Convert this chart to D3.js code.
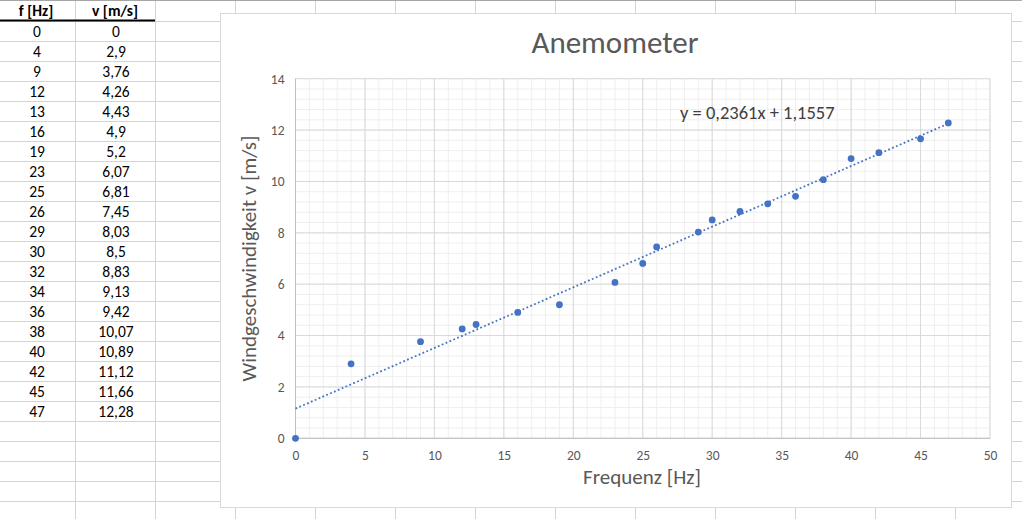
<!DOCTYPE html>
<html>
<head>
<meta charset="utf-8">
<script src="https://cdn.jsdelivr.net/npm/d3@7"></script>
<style>
  html, body { margin: 0; padding: 0; background: #fff; }
  svg { display: block; font-family: Calibri, Carlito, Lato, "Open Sans", sans-serif; }
</style>
</head>
<body>
<svg width="1022" height="519"></svg>
<script>
// measured data (also shown in the sheet on the left)
const freq = [0, 4, 9, 12, 13, 16, 19, 23, 25, 26, 29, 30, 32, 34, 36, 38, 40, 42, 45, 47];
const speed = [0, 2.9, 3.76, 4.26, 4.43, 4.9, 5.2, 6.07, 6.81, 7.45, 8.03, 8.5, 8.83, 9.13, 9.42, 10.07, 10.89, 11.12, 11.66, 12.28];

// linear trendline as printed by Excel
const slope = 0.2361;
const intercept = 1.1557;

const xTicks = [0, 5, 10, 15, 20, 25, 30, 35, 40, 45, 50];
const yTicks = [0, 2, 4, 6, 8, 10, 12, 14];

const BLUE = "#4472C4";
const comma = v => String(v).replace(".", ",");

const svg = d3.select("svg");

// ---- spreadsheet background ----
const sheet = svg.append("g");
const colLines = d3.range(75, 1022, 80);
const rowLines = d3.range(21, 519, 20);

sheet.selectAll(".col").data(colLines).join("line")
    .attr("x1", d => d + 0.5).attr("x2", d => d + 0.5)
    .attr("y1", 0).attr("y2", 519)
    .attr("stroke", "#d4d4d4");
sheet.selectAll(".row").data(rowLines).join("line")
    .attr("x1", 0).attr("x2", 1022)
    .attr("y1", d => d + 0.5).attr("y2", d => d + 0.5)
    .attr("stroke", "#d4d4d4");
sheet.append("line")
    .attr("x1", 0).attr("x2", 1022).attr("y1", 0.5).attr("y2", 0.5)
    .attr("stroke", "#a6a6a6");
// thick line under the header
sheet.append("line")
    .attr("x1", 0).attr("x2", 155).attr("y1", 20.5).attr("y2", 20.5)
    .attr("stroke", "#000").attr("stroke-width", 2);

const headers = [["f [Hz]", 36], ["v [m/s]", 115]];
sheet.selectAll(".hdr").data(headers).join("text")
    .attr("x", d => d[1]).attr("y", 15.5)
    .attr("text-anchor", "middle")
    .attr("font-size", 15.5).attr("font-weight", "bold")
    .attr("fill", "#000")
    .text(d => d[0]);

freq.forEach((f, i) => {
    const y = 37 + i * 20;
    sheet.append("text").attr("x", 37).attr("y", y)
        .attr("text-anchor", "middle").attr("font-size", 15.5).attr("fill", "#000")
        .text(comma(f));
    sheet.append("text").attr("x", 116).attr("y", y)
        .attr("text-anchor", "middle").attr("font-size", 15.5).attr("fill", "#000")
        .text(comma(speed[i]));
});

// ---- chart box ----
const box = { x: 220, y: 13, w: 791, h: 494 };
svg.append("rect")
    .attr("x", box.x + 0.5).attr("y", box.y + 0.5)
    .attr("width", box.w).attr("height", box.h)
    .attr("fill", "#fff").attr("stroke", "#d9d9d9");

const plot = { left: 295.5, right: 990, top: 78.7, bottom: 438.3 };

const x = d3.scaleLinear().domain([0, 50]).range([plot.left, plot.right]);
const y = d3.scaleLinear().domain([0, 14]).range([plot.bottom, plot.top]);

const g = svg.append("g");

// minor grid
const xMinor = d3.range(0, 50.01, 1);
const yMinor = d3.range(0, 14.01, 0.4);
g.selectAll(".xm").data(xMinor).join("line")
    .attr("x1", d => x(d)).attr("x2", d => x(d))
    .attr("y1", plot.top).attr("y2", plot.bottom)
    .attr("stroke", "#efefef");
g.selectAll(".ym").data(yMinor).join("line")
    .attr("x1", plot.left).attr("x2", plot.right)
    .attr("y1", d => y(d)).attr("y2", d => y(d))
    .attr("stroke", "#efefef");

// major grid
g.selectAll(".xM").data(xTicks).join("line")
    .attr("x1", d => x(d)).attr("x2", d => x(d))
    .attr("y1", plot.top).attr("y2", plot.bottom)
    .attr("stroke", "#d9d9d9");
g.selectAll(".yM").data(yTicks).join("line")
    .attr("x1", plot.left).attr("x2", plot.right)
    .attr("y1", d => y(d)).attr("y2", d => y(d))
    .attr("stroke", "#d9d9d9");

// axes lines
g.append("line")
    .attr("x1", plot.left).attr("x2", plot.right)
    .attr("y1", plot.bottom).attr("y2", plot.bottom)
    .attr("stroke", "#bfbfbf");
g.append("line")
    .attr("x1", plot.left).attr("x2", plot.left)
    .attr("y1", plot.top).attr("y2", plot.bottom)
    .attr("stroke", "#bfbfbf");

// tick labels
const xAxis = d3.axisBottom(x).tickValues(xTicks).tickSize(0).tickPadding(12).tickFormat(d => d);
const yAxis = d3.axisLeft(y).tickValues(yTicks).tickSize(0).tickPadding(11).tickFormat(d => d);

const xa = svg.append("g").attr("transform", `translate(0,${plot.bottom})`).call(xAxis);
const ya = svg.append("g").attr("transform", `translate(${plot.left},0)`).call(yAxis);
[xa, ya].forEach(a => {
    a.select(".domain").remove();
    a.selectAll("text")
        .attr("fill", "#595959")
        .style("font-family", "Calibri, Carlito, Lato, sans-serif")
        .style("font-size", "13.5px");
});

// trendline
g.append("line")
    .attr("x1", x(0)).attr("y1", y(intercept))
    .attr("x2", x(d3.max(freq))).attr("y2", y(intercept + slope * d3.max(freq)))
    .attr("stroke", BLUE).attr("stroke-width", 1.8)
    .attr("stroke-dasharray", "1.8 2.4");

// points
g.selectAll(".pt").data(freq).join("circle")
    .attr("cx", d => x(d))
    .attr("cy", (d, i) => y(speed[i]))
    .attr("r", 3.4)
    .attr("fill", BLUE);

// texts
svg.append("text")
    .attr("x", 615).attr("y", 53)
    .attr("text-anchor", "middle")
    .attr("font-size", 31).attr("fill", "#595959")
    .text("Anemometer");

svg.append("text")
    .attr("x", 680).attr("y", 119)
    .attr("font-size", 18.5).attr("fill", "#404040")
    .text(`y = ${comma(slope)}x + ${comma(intercept)}`);

svg.append("text")
    .attr("x", 642).attr("y", 484)
    .attr("text-anchor", "middle")
    .attr("font-size", 21).attr("fill", "#595959")
    .text("Frequenz [Hz]");

svg.append("text")
    .attr("transform", `translate(256,${(plot.top + plot.bottom) / 2}) rotate(-90)`)
    .attr("text-anchor", "middle")
    .attr("font-size", 21).attr("fill", "#595959")
    .text("Windgeschwindigkeit v [m/s]");
</script>
</body>
</html>
